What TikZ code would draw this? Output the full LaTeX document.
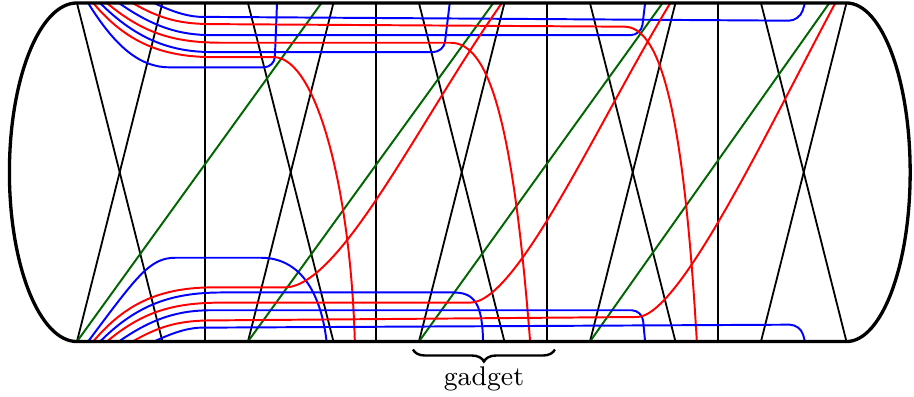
\documentclass[tikz,border=0pt]{standalone}
\usepackage{tikz}
\usetikzlibrary{decorations.pathreplacing}
\definecolor{darkgreen}{rgb}{0,0.4,0}
\tikzset{
  rim/.style={line width=1.1pt},
  strut/.style={line width=0.6pt},
  bluewire/.style={blue,line width=0.65pt,rounded corners=3.5pt},
  redwire/.style={red,line width=0.65pt},
  greenwire/.style={darkgreen,line width=0.65pt},
}

\begin{document}
\begin{tikzpicture}[x=1cm,y=0.99cm]
\useasboundingbox (-0.9,-0.649) rectangle (9.79,4.035);

\foreach \x in {0,2,4,6,8}{
  \draw[strut] (\x,4) -- (\x+1,0);
  \draw[strut] (\x+1,4) -- (\x,0);
}
\foreach \x in {1.5,3.5,5.5,7.5}
  \draw[strut] (\x,4) -- (\x,0);

\foreach \a/\b in {0/2.86,2/4.87,4/6.85,6/8.8}
  \draw[greenwire] (\a,0) -- (\b,4);

% wires from the upper corner
\draw[bluewire] (0.13,4) to[out=-58,in=180] (1.2,3.24) -- (2.31,3.24) -- (2.34,4);
\draw[redwire] (0.19,4) to[out=-50,in=180] (1.6,3.36) -- (2.3,3.36)
  .. controls (2.8,3.36) and (3.2,1.8) .. (3.25,0);
\draw[bluewire] (0.27,4) to[out=-45,in=180] (1.7,3.42) -- (4.29,3.42) -- (4.36,4);
\draw[redwire] (0.35,4) to[out=-40,in=180] (1.7,3.53) -- (4.37,3.53)
  .. controls (4.82,3.53) and (5.1,2.6) .. (5.3,0);
\draw[bluewire] (0.49,4) to[out=-35,in=180] (1.7,3.62) -- (6.6,3.62) -- (6.645,4);
\draw[redwire] (0.65,4) to[out=-30,in=180] (1.6,3.75) -- (6.4,3.72)
  .. controls (6.85,3.72) and (7.1,2.6) .. (7.25,0);
\draw[bluewire] (0.9,4) to[out=-25,in=180] (1.6,3.835) -- (8.45,3.79) -- (8.515,4);

% wires from the lower corner
\draw[blue,line width=0.65pt] (0.13,0) .. controls (0.7,0.77) and (0.85,0.99) .. (1.15,0.99)
  -- (2.15,0.99) .. controls (2.6,0.99) and (2.85,0.6) .. (2.92,0);
\draw[redwire] (0.19,0) to[out=50,in=180] (1.6,0.64) -- (2.43,0.64)
  .. controls (3.08,0.64) and (4.01,2.62) .. (4.97,4);
\draw[blue,line width=0.65pt] (0.27,0) to[out=45,in=180] (1.7,0.58) -- (4.4,0.58)
  .. controls (4.65,0.58) and (4.74,0.45) .. (4.75,0);
\draw[redwire] (0.35,0) to[out=40,in=180] (1.7,0.46) -- (4.6,0.46)
  .. controls (5.15,0.46) and (6.1,2.6) .. (6.94,4);
\draw[bluewire] (0.49,0) to[out=35,in=180] (1.7,0.37) -- (6.61,0.37) -- (6.645,0);
\draw[redwire] (0.65,0) to[out=30,in=180] (1.6,0.25) -- (6.55,0.29)
  .. controls (7.05,0.29) and (8.1,2.55) .. (8.87,4);
\draw[bluewire] (0.9,0) to[out=25,in=180] (1.6,0.165) -- (8.46,0.2) -- (8.515,0);

\draw[rim] (0,0) -- (9,0) arc[start angle=-90,end angle=90,x radius=0.745,y radius=2]
  -- (0,4) arc[start angle=90,end angle=270,x radius=0.79,y radius=2] -- cycle;

\coordinate (gl) at (3.93,-0.094);
\coordinate (gr) at (5.59,-0.094);
\draw[thick,decorate,decoration={brace,mirror,amplitude=4pt}] (gl) -- (gr);
\node[font=\small] (gadget) at (4.76,-0.44) {gadget};
\end{tikzpicture}
\end{document}
